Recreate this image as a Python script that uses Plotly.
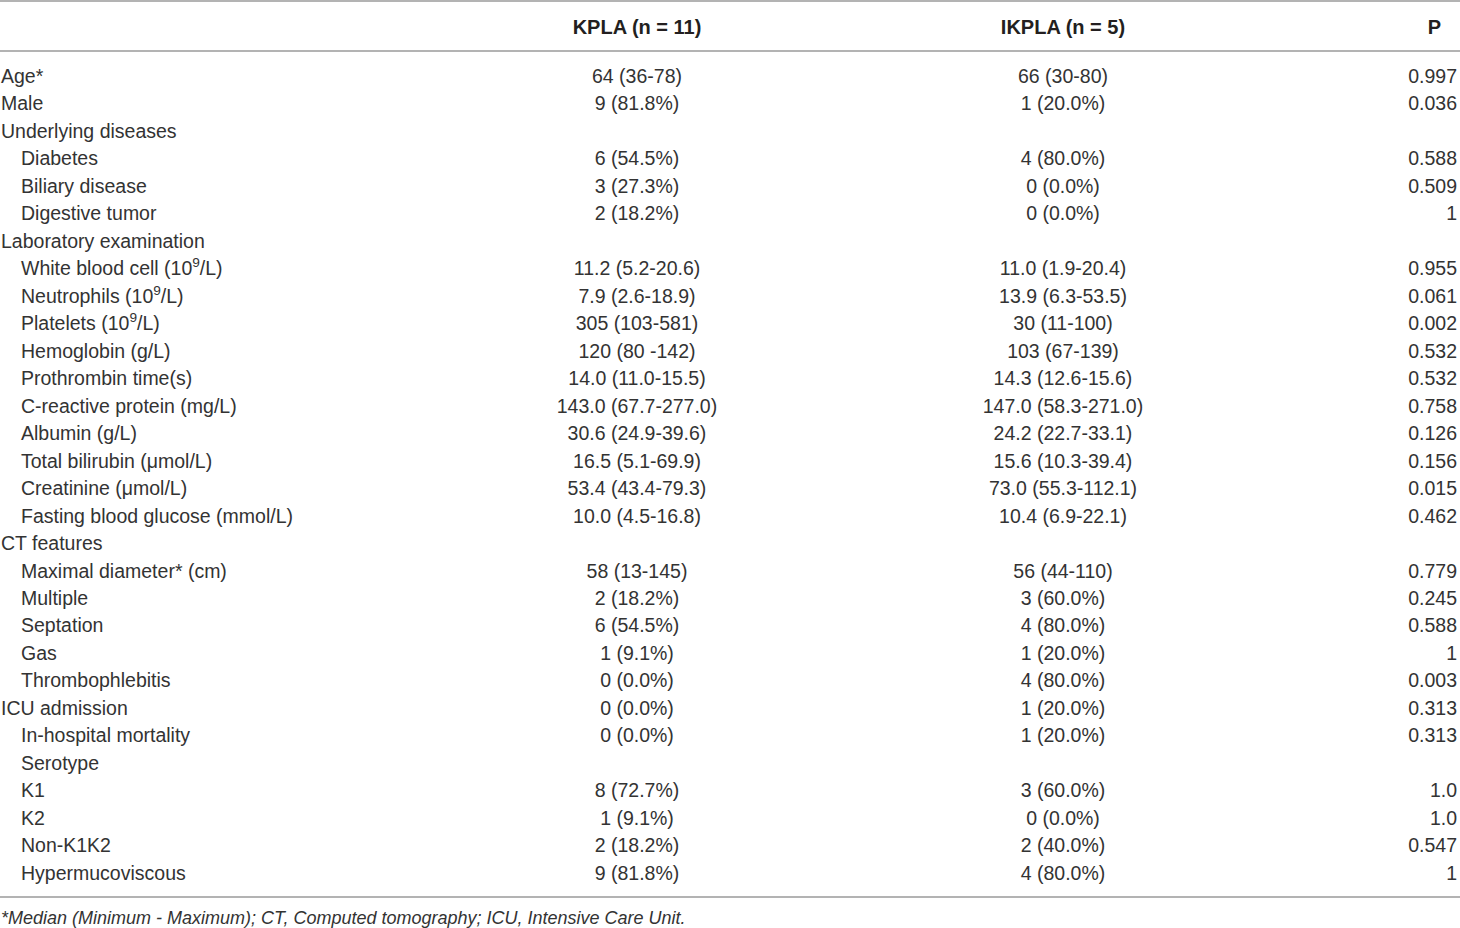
import plotly.graph_objects as go

# -------------------------------------------------
# Table contents
# -------------------------------------------------
row_labels = [
    "Age*", "Male", "Underlying diseases", "Diabetes", "Biliary disease",
    "Digestive tumor", "Laboratory examination", "White blood cell (10<sup>9</sup>/L)",
    "Neutrophils (10<sup>9</sup>/L)", "Platelets (10<sup>9</sup>/L)", "Hemoglobin (g/L)",
    "Prothrombin time(s)", "C-reactive protein (mg/L)", "Albumin (g/L)",
    "Total bilirubin (μmol/L)", "Creatinine (μmol/L)", "Fasting blood glucose (mmol/L)",
    "CT features", "Maximal diameter* (cm)", "Multiple", "Septation", "Gas",
    "Thrombophlebitis", "ICU admission", "In-hospital mortality", "Serotype",
    "K1", "K2", "Non-K1K2", "Hypermucoviscous",
]
indent = [0, 0, 0, 1, 1, 1, 0, 1, 1, 1, 1, 1, 1, 1, 1, 1, 1, 0, 1, 1, 1, 1, 1, 0, 1, 1, 1, 1, 1, 1]

kpla = [
    "64 (36-78)", "9 (81.8%)", "", "6 (54.5%)", "3 (27.3%)", "2 (18.2%)", "",
    "11.2 (5.2-20.6)", "7.9 (2.6-18.9)", "305 (103-581)", "120 (80 -142)",
    "14.0 (11.0-15.5)", "143.0 (67.7-277.0)", "30.6 (24.9-39.6)", "16.5 (5.1-69.9)",
    "53.4 (43.4-79.3)", "10.0 (4.5-16.8)", "", "58 (13-145)", "2 (18.2%)",
    "6 (54.5%)", "1 (9.1%)", "0 (0.0%)", "0 (0.0%)", "0 (0.0%)", "",
    "8 (72.7%)", "1 (9.1%)", "2 (18.2%)", "9 (81.8%)",
]
ikpla = [
    "66 (30-80)", "1 (20.0%)", "", "4 (80.0%)", "0 (0.0%)", "0 (0.0%)", "",
    "11.0 (1.9-20.4)", "13.9 (6.3-53.5)", "30 (11-100)", "103 (67-139)",
    "14.3 (12.6-15.6)", "147.0 (58.3-271.0)", "24.2 (22.7-33.1)", "15.6 (10.3-39.4)",
    "73.0 (55.3-112.1)", "10.4 (6.9-22.1)", "", "56 (44-110)", "3 (60.0%)",
    "4 (80.0%)", "1 (20.0%)", "4 (80.0%)", "1 (20.0%)", "1 (20.0%)", "",
    "3 (60.0%)", "0 (0.0%)", "2 (40.0%)", "4 (80.0%)",
]
p_values = [
    "0.997", "0.036", "", "0.588", "0.509", "1", "",
    "0.955", "0.061", "0.002", "0.532", "0.532", "0.758", "0.126", "0.156",
    "0.015", "0.462", "", "0.779", "0.245", "0.588", "1", "0.003", "0.313",
    "0.313", "", "1.0", "1.0", "0.547", "1",
]
headers = ["KPLA (n = 11)", "IKPLA (n = 5)", "P"]
footnote = "<i>*Median (Minimum - Maximum); CT, Computed tomography; ICU, Intensive Care Unit.</i>"

# -------------------------------------------------
# Geometry (pixel-based x, row-based y)
# -------------------------------------------------
W, H = 1460, 928
row_top_px, row_step_px = 78, 27.48
y_top = -row_top_px / row_step_px
y_bot = (H - row_top_px) / row_step_px
px2row = lambda px: (px - row_top_px) / row_step_px

col_kpla, col_ikpla, col_p = 637, 1063, 1457

text_color = "#333333"
family = "Liberation Sans, Arial, sans-serif"
font = dict(family=family, size=19.5, color=text_color)


def add_column(x, texts, position):
    # skip empty cells
    pts = [(x(i) if callable(x) else x, i, t) for i, t in enumerate(texts) if t]
    fig.add_trace(go.Scatter(
        x=[p[0] for p in pts], y=[p[1] for p in pts], mode="text",
        text=[p[2] for p in pts], textposition=position, textfont=font, hoverinfo="skip",
    ))


fig = go.Figure()

add_column(lambda i: 1 + 20 * indent[i], row_labels, "middle right")
add_column(col_kpla, kpla, "middle center")
add_column(col_ikpla, ikpla, "middle center")
add_column(col_p, p_values, "middle left")

# header row
header_y = px2row(29)
fig.add_trace(go.Scatter(
    x=[col_kpla, col_ikpla, 1441], y=[header_y] * 3, mode="text",
    text=[f"<b>{h}</b>" for h in headers],
    textposition=["middle center", "middle center", "middle left"],
    textfont=dict(family=family, size=20, color="#231f20"), hoverinfo="skip",
))

# footnote
fig.add_trace(go.Scatter(
    x=[1], y=[px2row(919)], mode="text", text=[footnote],
    textposition="middle right", textfont=dict(family=family, size=18, color=text_color),
    hoverinfo="skip",
))

# horizontal rules
for py in [1, 51, 897]:
    fig.add_shape(type="line", xref="x", yref="y", x0=0, x1=W, y0=px2row(py), y1=px2row(py),
                  line=dict(color="#9a9a9a", width=1.5))

fig.update_layout(
    width=W, height=H,
    margin=dict(l=0, r=0, t=0, b=0),
    plot_bgcolor="white", paper_bgcolor="white",
    showlegend=False,
    xaxis=dict(range=[0, W], visible=False, fixedrange=True),
    yaxis=dict(range=[y_bot, y_top], visible=False, fixedrange=True),
)

fig.write_html("out.html", config={"displayModeBar": False},
               post_script="document.body.style.margin='0';")
